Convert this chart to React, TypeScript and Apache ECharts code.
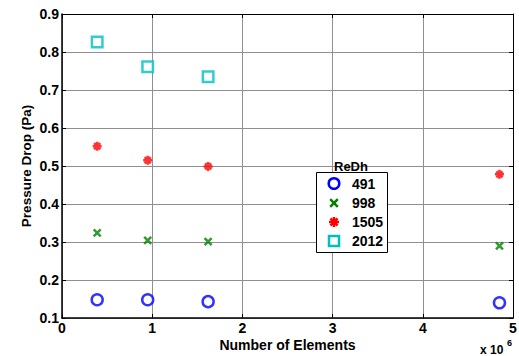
import React, { useEffect, useRef } from "react";
import * as echarts from "echarts";

const elements = [390000, 950000, 1620000, 4850000];
const elementsSq = [390000, 950000, 1620000];
const re491 = [0.148, 0.148, 0.143, 0.14];
const re998 = [0.324, 0.304, 0.301, 0.29];
const re1505 = [0.552, 0.515, 0.499, 0.478];
const re2012 = [0.826, 0.761, 0.735];
const seriesNames = ["491", "998", "1505", "2012"];
const legendTitle = "ReDh";

const FONT = "'Liberation Sans', Arial, sans-serif";
const crossPath = "path://M0,0L10,10M10,0L0,10";
const starPath = "path://M5,0L5,10M0,5L10,5M1.6,1.6L8.4,8.4M8.4,1.6L1.6,8.4";
const BLUE = "#0000ff";
const GREEN = "#007f00";
const RED = "#ff0000";
const CYAN = "#00bfbf";

export default function App() {
  const ref = useRef<HTMLDivElement>(null);
  useEffect(() => {
    const chart = echarts.init(ref.current!, null, { renderer: "svg" });
    const pts = (xs: number[], ys: number[]) => xs.map((x, i) => [x, ys[i]]);
    const gridLine = { show: true, lineStyle: { color: "#8f8f8f", width: 1 } };
    const tickIn = { show: true, inside: true, length: 4, lineStyle: { color: "#000" } };

    const lx = 334;
    const rows = [183.5, 203, 222, 241];
    const lw = 2.5;
    const legendGraphics: any[] = [
      { type: "rect", shape: { x: 316.5, y: 172.5, width: 71, height: 80 }, style: { fill: "#fff", stroke: "#000", lineWidth: 1 }, z: 100 },
      { type: "text", x: lx, y: 166, style: { text: legendTitle, font: `bold 13px ${FONT}`, fill: "#000", verticalAlign: "middle", align: "left" }, z: 101 },
      { type: "circle", shape: { cx: lx, cy: rows[0], r: 5.3 }, style: { fill: "none", stroke: BLUE, lineWidth: lw }, z: 101 },
      { type: "line", shape: { x1: lx - 3.8, y1: rows[1] - 3.8, x2: lx + 3.8, y2: rows[1] + 3.8 }, style: { stroke: GREEN, lineWidth: lw }, z: 101 },
      { type: "line", shape: { x1: lx + 3.8, y1: rows[1] - 3.8, x2: lx - 3.8, y2: rows[1] + 3.8 }, style: { stroke: GREEN, lineWidth: lw }, z: 101 },
      { type: "line", shape: { x1: lx, y1: rows[2] - 5, x2: lx, y2: rows[2] + 5 }, style: { stroke: RED, lineWidth: lw }, z: 101 },
      { type: "line", shape: { x1: lx - 5, y1: rows[2], x2: lx + 5, y2: rows[2] }, style: { stroke: RED, lineWidth: lw }, z: 101 },
      { type: "line", shape: { x1: lx - 3.5, y1: rows[2] - 3.5, x2: lx + 3.5, y2: rows[2] + 3.5 }, style: { stroke: RED, lineWidth: lw }, z: 101 },
      { type: "line", shape: { x1: lx + 3.5, y1: rows[2] - 3.5, x2: lx - 3.5, y2: rows[2] + 3.5 }, style: { stroke: RED, lineWidth: lw }, z: 101 },
      { type: "rect", shape: { x: lx - 5, y: rows[3] - 5, width: 10, height: 10 }, style: { fill: "none", stroke: CYAN, lineWidth: lw }, z: 101 },
    ];
    seriesNames.forEach((n, i) => {
      legendGraphics.push({ type: "text", x: 352, y: rows[i], style: { text: n, font: `bold 14px ${FONT}`, fill: "#000", verticalAlign: "middle", align: "left" }, z: 101 });
    });

    chart.setOption({
      animation: false,
      backgroundColor: "#fff",
      grid: { left: 62, right: 6, top: 14, bottom: 38, show: false, containLabel: false, outerBoundsMode: "none" },
      xAxis: [
        {
          type: "value", min: 0, max: 5000000, interval: 1000000,
          axisLine: { show: true, onZero: false, lineStyle: { color: "#000", width: 1.5 } },
          axisTick: tickIn,
          splitLine: gridLine,
          axisLabel: { color: "#000", fontFamily: FONT, fontWeight: "bold", fontSize: 14, lineHeight: 13, margin: 3, formatter: (v: number) => String(Math.round(v / 1e6)) },
          name: "Number of Elements", nameLocation: "middle", nameGap: 20, nameMoveOverlap: false,
          nameTextStyle: { color: "#000", fontFamily: FONT, fontWeight: "bold", fontSize: 14, lineHeight: 13 },
        },
        {
          type: "value", position: "top", min: 0, max: 5000000, interval: 1000000,
          axisLine: { show: true, onZero: false, lineStyle: { color: "#000", width: 1 } },
          axisTick: tickIn, axisLabel: { show: false }, splitLine: { show: false },
        },
      ],
      yAxis: [
        {
          type: "value", min: 0.1, max: 0.9, interval: 0.1,
          axisLine: { show: true, onZero: false, lineStyle: { color: "#000", width: 1.5 } },
          axisTick: tickIn,
          splitLine: gridLine,
          axisLabel: { color: "#000", fontFamily: FONT, fontWeight: "bold", fontSize: 14, margin: 3, formatter: (v: number) => v.toFixed(1) },
          name: "Pressure Drop (Pa)", nameLocation: "middle", nameGap: 29, nameMoveOverlap: false,
          nameTextStyle: { color: "#000", fontFamily: FONT, fontWeight: "bold", fontSize: 13.5 },
        },
        {
          type: "value", position: "right", min: 0.1, max: 0.9, interval: 0.1,
          axisLine: { show: true, onZero: false, lineStyle: { color: "#000", width: 1 } },
          axisTick: tickIn, axisLabel: { show: false }, splitLine: { show: false },
        },
      ],
      graphic: [
        ...legendGraphics,
        { type: "text", x: 480, y: 350, style: { text: "x 10", font: `bold 12px ${FONT}`, fill: "#000", verticalAlign: "middle", align: "left" } },
        { type: "text", x: 507, y: 343, style: { text: "6", font: `bold 9px ${FONT}`, fill: "#000", verticalAlign: "middle", align: "left" } },
      ],
      series: [
        {
          name: "491", type: "scatter", data: pts(elements, re491), symbol: "circle", symbolSize: 11,
          itemStyle: { color: "#fff", borderColor: BLUE, borderWidth: 2.5 },
        },
        {
          name: "998", type: "scatter", data: pts(elements, re998), symbol: crossPath, symbolSize: 7,
          itemStyle: { color: "none", borderColor: GREEN, borderWidth: 2.5 },
        },
        {
          name: "1505", type: "scatter", data: pts(elements, re1505), symbol: starPath, symbolSize: 9,
          itemStyle: { color: "none", borderColor: RED, borderWidth: 2.5 },
        },
        {
          name: "2012", type: "scatter", data: pts(elementsSq, re2012), symbol: "rect", symbolSize: 10.5,
          itemStyle: { color: "#fff", borderColor: CYAN, borderWidth: 2.5 },
        },
      ],
    });
    return () => chart.dispose();
  }, []);
  return <div ref={ref} style={{ width: 519, height: 356, position: "absolute", left: 0, top: 0 }} />;
}
